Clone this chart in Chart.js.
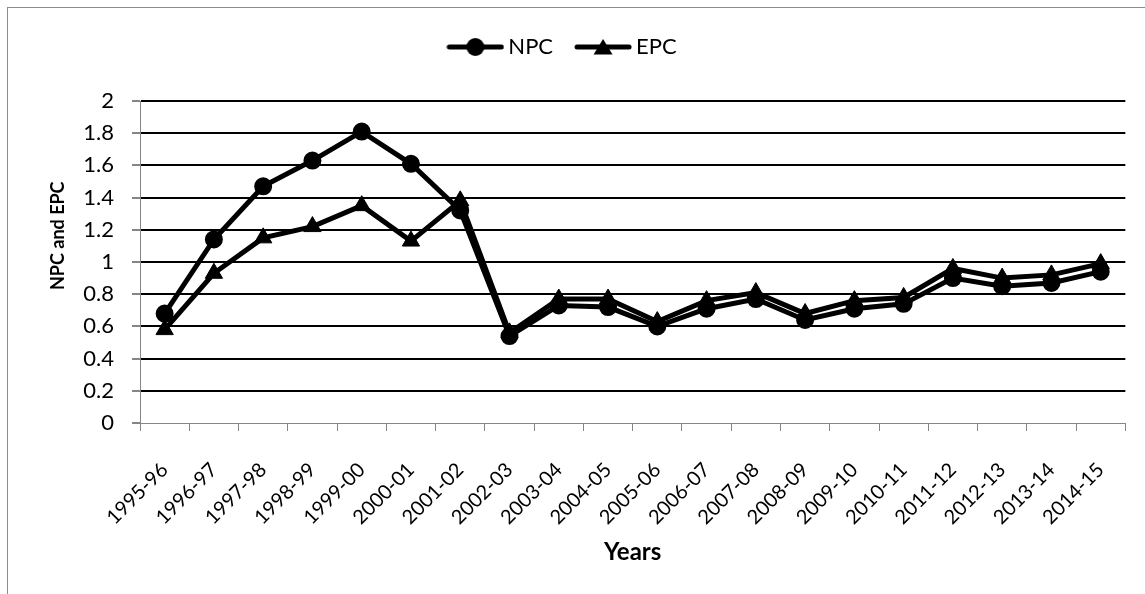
<!DOCTYPE html>
<html>
<head>
<meta charset="utf-8">
<script src="https://cdn.jsdelivr.net/npm/chart.js"></script>
<style>
  body { margin: 0; background: #fff; }
  #frame { position: absolute; left: 7px; top: 7px; width: 1150px; height: 600px;
           border-left: 1px solid #8c8c8c; border-top: 1px solid #8c8c8c; }
  #wrap { position: absolute; left: 8px; top: 8px; width: 1137px; height: 586px; }
</style>
</head>
<body>
<div id="frame"></div>
<div id="wrap"><canvas id="chart"></canvas></div>
<script>
var years = ['1995-96', '1996-97', '1997-98', '1998-99', '1999-00', '2000-01', '2001-02',
  '2002-03', '2003-04', '2004-05', '2005-06', '2006-07', '2007-08', '2008-09', '2009-10',
  '2010-11', '2011-12', '2012-13', '2013-14', '2014-15'];
var npc = [0.68, 1.14, 1.47, 1.63, 1.81, 1.61, 1.32, 0.54, 0.73, 0.72, 0.60, 0.71, 0.77,
  0.64, 0.71, 0.74, 0.90, 0.85, 0.87, 0.94];
var epc = [0.58, 0.93, 1.15, 1.22, 1.35, 1.13, 1.38, 0.56, 0.77, 0.77, 0.63, 0.76, 0.81,
  0.68, 0.76, 0.78, 0.96, 0.90, 0.92, 0.99];

var GREY = '#868686';

// legend icon: line with marker in the middle, like the excel legend
function legendIcon(kind) {
  var c = document.createElement('canvas');
  c.width = 58; c.height = 22;
  var g = c.getContext('2d');
  g.strokeStyle = '#000';
  g.fillStyle = '#000';
  g.lineWidth = 5;
  g.lineCap = 'round';
  g.beginPath(); g.moveTo(3, 11); g.lineTo(55, 11); g.stroke();
  g.beginPath();
  if (kind === 'circle') {
    g.arc(29, 11, 9, 0, Math.PI * 2);
  } else {
    g.moveTo(29, 3); g.lineTo(38.5, 18.5); g.lineTo(19.5, 18.5); g.closePath();
  }
  g.fill();
  return c;
}
var icons = [legendIcon('circle'), legendIcon('triangle')];

// move the legend up/left after layout, the plot keeps its place
var legendShift = {
  id: 'legendShift',
  afterLayout: function (chart) {
    var lg = chart.legend;
    var dy = lg.top - 0, dx = 5;
    lg.top -= dy; lg.bottom -= dy;
    lg.left -= dx; lg.right -= dx;
  }
};

Chart.defaults.font.family = 'Lato';
Chart.defaults.color = '#000';

var config = {
  type: 'line',
  data: {
    labels: years,
    datasets: [{
      label: 'NPC', data: npc, borderColor: '#000', backgroundColor: '#000',
      borderWidth: 5, pointStyle: 'circle', pointRadius: 8, pointBorderWidth: 2, tension: 0
    }, {
      label: 'EPC', data: epc, borderColor: '#000', backgroundColor: '#000',
      borderWidth: 5, pointStyle: 'triangle', pointRadius: 10, pointBorderWidth: 1, tension: 0
    }]
  },
  options: {
    responsive: true,
    maintainAspectRatio: false,
    animation: false,
    layout: { padding: { top: 33, right: 13, bottom: 0, left: 0 } },
    plugins: {
      tooltip: { enabled: false },
      legend: {
        position: 'top',
        labels: {
          usePointStyle: true, pointStyleWidth: 44, padding: 28,
          font: { size: 22 }, color: '#000',
          generateLabels: function (chart) {
            var items = Chart.defaults.plugins.legend.labels.generateLabels(chart);
            items.forEach(function (it, i) { it.pointStyle = icons[i]; });
            return items;
          }
        }
      }
    },
    scales: {
      x: {
        offset: true,
        grid: { display: true, drawOnChartArea: false, offset: true, color: GREY, tickLength: 8 },
        border: { color: GREY, width: 1 },
        ticks: { minRotation: 45, maxRotation: 45, padding: 27, font: { size: 20 }, color: '#000' },
        title: { display: true, text: 'Years', font: { size: 24, weight: 'bold' }, padding: { top: 0, bottom: 27 } },
        afterFit: function (s) { s.height = 171; }
      },
      y: {
        min: 0, max: 2,
        ticks: {
          stepSize: 0.2, padding: 18, font: { size: 22 }, color: '#000',
          callback: function (v) { return String(Number(v.toFixed(1))); }
        },
        grid: {
          color: function (ctx) { return ctx.tick && ctx.tick.value === 0 ? 'rgba(0,0,0,0)' : '#000'; },
          lineWidth: 2, tickColor: GREY, tickLength: 8
        },
        border: { color: GREY, width: 1 },
        // leading spaces lift the title a bit above the plot centre, as in the original
        title: { display: true, text: '            NPC and EPC', font: { size: 18, weight: 'bold' }, padding: { top: 39, bottom: 0 } },
        afterFit: function (s) { s.width = 132; }
      }
    }
  },
  plugins: [legendShift]
};

window.onload = function () {
  var ctx = document.getElementById('chart').getContext('2d');
  window.myLine = new Chart(ctx, config);
};
</script>
</body>
</html>
